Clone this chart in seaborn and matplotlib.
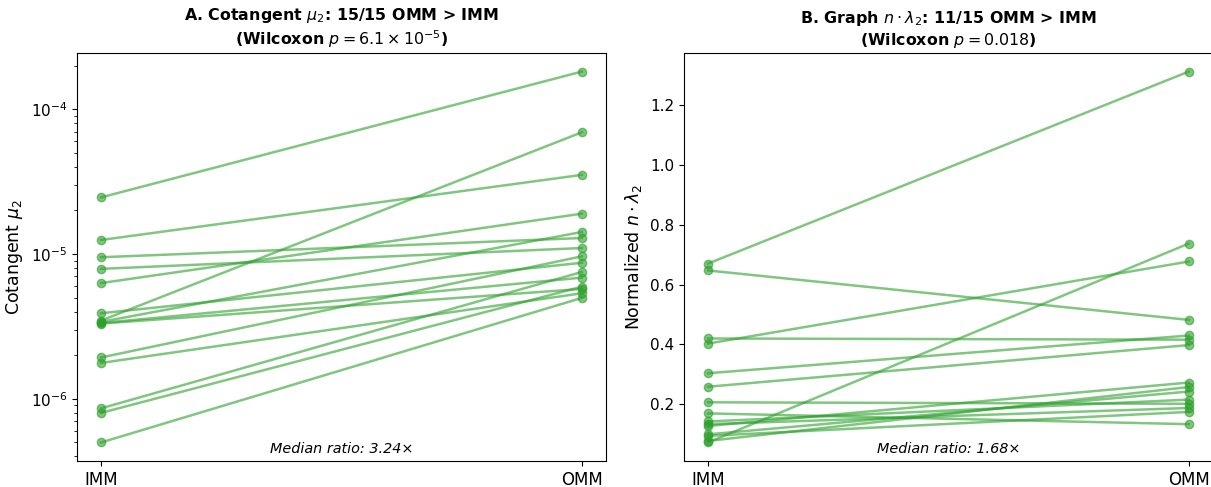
import pandas as pd
import matplotlib
matplotlib.use("Agg")
import matplotlib.pyplot as plt
import seaborn as sns

# Panel A: cotangent mu2 per specimen (IMM vs OMM)
cot_imm = [2.46e-5, 1.25e-5, 9.5e-6, 7.9e-6, 6.3e-6, 3.9e-6, 3.47e-6, 3.40e-6,
           3.34e-6, 3.31e-6, 1.93e-6, 1.77e-6, 8.6e-7, 8.0e-7, 5.0e-7]
cot_omm = [1.82e-4, 3.52e-5, 1.29e-5, 1.10e-5, 1.90e-5, 8.7e-6, 6.93e-5, 1.42e-5,
           6.87e-6, 5.74e-6, 9.64e-6, 5.36e-6, 7.52e-6, 5.95e-6, 4.98e-6]

# Panel B: normalized graph n*lambda2
graph_imm = [0.670, 0.647, 0.420, 0.403, 0.304, 0.259, 0.207, 0.170,
             0.073, 0.143, 0.134, 0.128, 0.100, 0.095, 0.078]
graph_omm = [1.311, 0.482, 0.416, 0.677, 0.430, 0.398, 0.202, 0.134,
             0.737, 0.216, 0.188, 0.273, 0.243, 0.175, 0.258]

conditions = ["IMM", "OMM"]
titles = [r"A. Cotangent $\mu_2$: 15/15 OMM > IMM" + "\n" + r"(Wilcoxon $p = 6.1 \times 10^{-5}$)",
          r"B. Graph $n \cdot \lambda_2$: 11/15 OMM > IMM" + "\n" + r"(Wilcoxon $p = 0.018$)"]
ylabels = [r"Cotangent $\mu_2$", r"Normalized $n \cdot \lambda_2$"]
medians = ["Median ratio: 3.24\u00d7", "Median ratio: 1.68\u00d7"]


def to_long(imm, omm):
    rows = []
    for i, (a, b) in enumerate(zip(imm, omm)):
        rows.append({"subject": i, "cond": conditions[0], "value": a})
        rows.append({"subject": i, "cond": conditions[1], "value": b})
    return pd.DataFrame(rows)


green = "#2ca02c"
fig = plt.figure(figsize=(12.11, 4.87), dpi=100)
ax1 = fig.add_axes([0.0636, 0.0534, 0.4368, 0.8378])
ax2 = fig.add_axes([0.5648, 0.0534, 0.4368, 0.8378])

for ax, (imm, omm), title, ylab, med in zip(
        [ax1, ax2], [(cot_imm, cot_omm), (graph_imm, graph_omm)], titles, ylabels, medians):
    df = to_long(imm, omm)
    sns.lineplot(data=df, x="cond", y="value", units="subject", estimator=None,
                 color=green, alpha=0.6, marker="o", markersize=6, linewidth=1.8,
                 markeredgecolor=green, markeredgewidth=1.0, ax=ax, legend=False)
    ax.set_title(title, fontsize=11.4, fontweight="bold", pad=6)
    ax.set_ylabel(ylab, fontsize=12.5)
    ax.set_xlabel("")
    ax.tick_params(axis="x", labelsize=12)
    ax.tick_params(axis="y", labelsize=11)
    ax.text(0.5, 0.012, med, transform=ax.transAxes, ha="center", va="bottom",
            style="italic", fontsize=10.4)

ax1.set_yscale("log")

fig.savefig("out.png", dpi=100)
